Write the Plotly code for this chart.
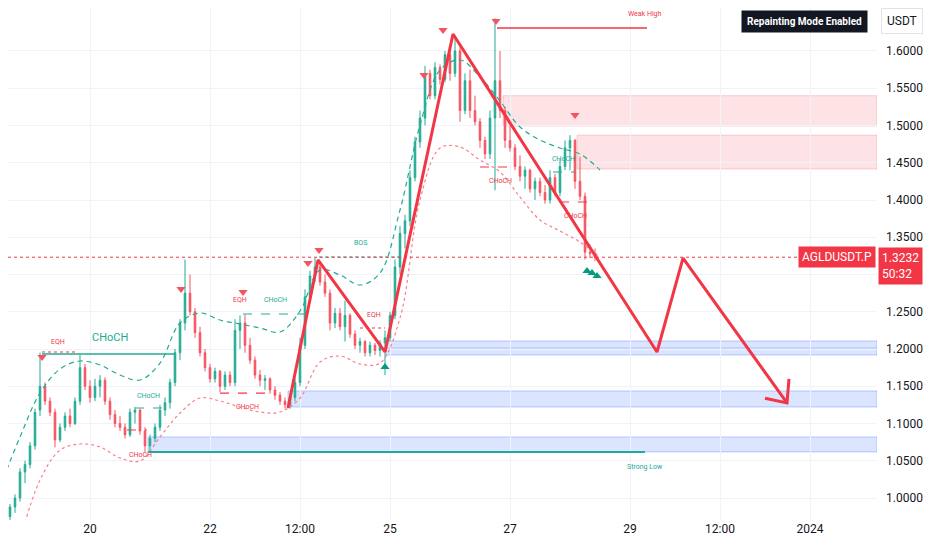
import pandas as pd
import plotly.graph_objects as go

# ---------------- data ----------------
candle_start = "2023-12-18 16:00"   # 2-hour candles
open_ = [0.975,0.988,1.000,1.035,1.045,1.070,1.118,1.150,1.130,1.115,
         1.078,1.095,1.110,1.100,1.130,1.175,1.150,1.135,1.150,1.158,
         1.130,1.112,1.100,1.095,1.085,1.115,1.118,1.090,1.070,1.080,
         1.095,1.118,1.128,1.155,1.195,1.235,1.275,1.250,1.222,1.195,
         1.175,1.160,1.170,1.150,1.165,1.155,1.225,1.235,1.205,1.185,
         1.165,1.158,1.160,1.145,1.138,1.130,1.125,1.135,1.155,1.205,
         1.270,1.298,1.310,1.290,1.275,1.235,1.248,1.230,1.245,1.220,
         1.205,1.210,1.195,1.205,1.198,1.208,1.215,1.245,1.310,1.355,
         1.372,1.430,1.478,1.510,1.570,1.540,1.578,1.562,1.595,1.570,
         1.600,1.520,1.560,1.520,1.505,1.480,1.462,1.510,1.560,1.520,
         1.480,1.470,1.445,1.432,1.440,1.415,1.425,1.410,1.400,1.430,
         1.410,1.445,1.470,1.480,1.425,1.405,1.330,1.328]
high = [0.992,1.005,1.040,1.050,1.075,1.120,1.195,1.155,1.135,1.120,
        1.100,1.115,1.120,1.135,1.192,1.180,1.158,1.160,1.165,1.162,
        1.135,1.118,1.110,1.100,1.120,1.122,1.120,1.095,1.085,1.100,
        1.125,1.135,1.160,1.200,1.240,1.320,1.300,1.255,1.230,1.200,
        1.180,1.175,1.172,1.170,1.170,1.240,1.245,1.246,1.215,1.190,
        1.172,1.165,1.162,1.150,1.142,1.135,1.140,1.160,1.215,1.280,
        1.305,1.322,1.318,1.300,1.280,1.255,1.255,1.265,1.248,1.225,
        1.215,1.212,1.210,1.208,1.212,1.225,1.250,1.320,1.365,1.380,
        1.440,1.485,1.520,1.580,1.575,1.585,1.582,1.600,1.605,1.620,
        1.605,1.570,1.575,1.540,1.510,1.485,1.520,1.644,1.600,1.525,
        1.500,1.475,1.460,1.445,1.442,1.430,1.430,1.420,1.440,1.435,
        1.455,1.480,1.487,1.482,1.458,1.410,1.340,1.335]
low = [0.970,0.980,0.995,1.020,1.040,1.065,1.110,1.125,1.110,1.068,
       1.075,1.090,1.095,1.098,1.125,1.145,1.128,1.130,1.135,1.125,
       1.105,1.095,1.090,1.080,1.082,1.100,1.085,1.062,1.063,1.075,
       1.090,1.110,1.120,1.150,1.185,1.225,1.245,1.215,1.190,1.170,
       1.155,1.155,1.142,1.145,1.150,1.150,1.200,1.195,1.180,1.160,
       1.150,1.145,1.140,1.132,1.125,1.120,1.120,1.130,1.150,1.200,
       1.262,1.290,1.285,1.270,1.225,1.228,1.225,1.210,1.215,1.200,
       1.195,1.190,1.190,1.192,1.190,1.165,1.210,1.240,1.300,1.335,
       1.365,1.425,1.470,1.500,1.535,1.535,1.555,1.558,1.560,1.565,
       1.505,1.515,1.510,1.500,1.470,1.455,1.455,1.413,1.510,1.470,
       1.465,1.440,1.425,1.415,1.410,1.400,1.405,1.395,1.395,1.405,
       1.405,1.440,1.440,1.415,1.400,1.320,1.322,1.318]
close = [0.988,1.000,1.035,1.045,1.070,1.115,1.150,1.130,1.115,1.078,
         1.095,1.110,1.100,1.130,1.175,1.150,1.135,1.150,1.158,1.130,
         1.112,1.100,1.095,1.085,1.115,1.118,1.090,1.070,1.080,1.095,
         1.118,1.128,1.155,1.195,1.235,1.275,1.250,1.222,1.195,1.175,
         1.160,1.170,1.150,1.165,1.155,1.225,1.235,1.205,1.185,1.165,
         1.158,1.160,1.145,1.138,1.130,1.125,1.135,1.155,1.205,1.270,
         1.298,1.310,1.290,1.275,1.235,1.248,1.230,1.245,1.220,1.205,
         1.210,1.195,1.205,1.198,1.208,1.215,1.245,1.310,1.355,1.372,
         1.430,1.478,1.510,1.570,1.540,1.578,1.562,1.595,1.570,1.600,
         1.520,1.560,1.520,1.505,1.480,1.462,1.510,1.560,1.520,1.480,
         1.470,1.445,1.432,1.440,1.415,1.425,1.410,1.400,1.430,1.410,
         1.445,1.470,1.480,1.425,1.405,1.330,1.328,1.3232]

# envelope bands (sampled every 8 hours)
upper_start = "2023-12-18 12:00"
upper_band = [1.0148,1.0819,1.1409,1.1731,1.1839,1.1785,1.1651,1.1584,1.1812,1.2349,
              1.2483,1.2389,1.2336,1.2282,1.2228,1.2510,1.3060,1.2993,1.2859,1.3020,
              1.3866,1.5007,1.5745,1.5879,1.5651,1.5329,1.4980,1.4805,1.4698,1.4617,
              1.4403]
lower_start = "2023-12-18 20:00"
lower_band = [0.9436,1.0242,1.0644,1.0725,1.0685,1.0537,1.0497,1.0819,1.1141,1.1342,
              1.1302,1.1221,1.1154,1.1154,1.1342,1.1825,1.1906,1.1799,1.1812,1.2416,
              1.4000,1.4698,1.4711,1.4537,1.4376,1.4040,1.3732,1.3584,1.3436,1.3235]

# projected zigzag path
zig_time = ["2023-12-23 07:12","2023-12-23 19:12","2023-12-24 22:00","2023-12-26 01:12",
            "2023-12-29 10:48","2023-12-29 21:12","2023-12-31 14:48"]
zig_price = [1.1209,1.3195,1.1960,1.6228,1.1960,1.3220,1.1276]
arrow_time = ["2023-12-31 06:00","2023-12-31 14:48","2023-12-31 15:36"]
arrow_price = [1.1340,1.1276,1.1600]

# zones
zone_start = ["2023-12-26 21:12","2023-12-28 02:48","2023-12-24 22:24","2023-12-23 07:12","2023-12-20 23:12"]
zone_top = [1.540,1.487,1.2108,1.1437,1.0820]
zone_bottom = [1.4993,1.4416,1.1920,1.1222,1.0619]
zone_kind = ["supply","supply","demand","demand","demand"]
zone_end = "2024-01-02 02:48"

# structure levels
lvl_t0 = ["2023-12-19 04:48","2023-12-19 04:48","2023-12-20 18:00","2023-12-20 14:48","2023-12-22 13:12",
          "2023-12-22 04:00","2023-12-23 19:36","2023-12-24 12:00","2023-12-26 12:00","2023-12-27 17:12",
          "2023-12-27 20:00"]
lvl_t1 = ["2023-12-21 10:00","2023-12-19 19:12","2023-12-21 06:00","2023-12-20 22:48","2023-12-23 14:00",
          "2023-12-23 02:00","2023-12-25 04:00","2023-12-24 22:00","2023-12-27 00:00","2023-12-28 02:00",
          "2023-12-28 06:48"]
lvl_price = [1.1933,1.1960,1.1208,1.0913,1.2470,1.1409,1.3235,1.2282,1.4443,1.4376,1.3973]
lvl_side = ["bull","bear","bull","bear","bull","bear","bull","bear","bear","bull","bear"]
lvl_dash = ["solid","dot","dash","dash","dash","dash","dot","dot","dash","dash","dash"]

# labels
lab_text = ["EQH","CHoCH","CHoCH","CHoCH","EQH","CHoCH","CHoCH","BOS","EQH","CHoCH","CHoCH","CHoCH"]
lab_time = ["2023-12-19 11:12","2023-12-20 08:00","2023-12-20 23:12","2023-12-20 20:00","2023-12-22 12:00",
            "2023-12-23 02:00","2023-12-22 14:48","2023-12-24 12:00","2023-12-24 17:36","2023-12-26 20:00",
            "2023-12-27 21:12","2023-12-28 02:00"]
lab_price = [1.2094,1.2148,1.1369,1.0577,1.2658,1.2658,1.1221,1.3423,1.2456,1.4255,1.4550,1.3785]
lab_side = ["bear","bull","bull","bear","bear","bull","bear","bull","bear","bear","bull","bear"]
lab_size = [7,11,7,7,7,7,7,7,7,7,7,7]

# swing markers
top_time = ["2023-12-19 04:48","2023-12-21 12:24","2023-12-22 13:12","2023-12-23 15:12","2023-12-23 19:36",
            "2023-12-25 13:36","2023-12-25 21:12","2023-12-26 18:24","2023-12-28 02:00"]
top_price = [1.1893,1.2806,1.2766,1.3155,1.3330,1.5678,1.6282,1.6403,1.5141]
bot_time = ["2023-12-24 22:00","2023-12-28 06:48","2023-12-28 08:48","2023-12-28 10:48"]
bot_price = [1.1759,1.3048,1.3020,1.2980]

weak_high = {"t0": "2023-12-26 18:48", "t1": "2023-12-29 06:48", "price": 1.6309}
strong_low = {"t0": "2023-12-20 23:12", "t1": "2023-12-29 06:00", "price": 1.0617}
last_price = 1.3232

tick_vals = ["2023-12-20","2023-12-22","2023-12-23 12:00","2023-12-25","2023-12-27",
             "2023-12-29","2023-12-30 12:00","2024-01-01"]
tick_text = ["20","22","12:00","25","27","29","12:00","2024"]
price_ticks = [1.00,1.05,1.10,1.15,1.20,1.25,1.30,1.35,1.40,1.45,1.50,1.55,1.60]
price_text = ["1.0000","1.0500","1.1000","1.1500","1.2000","1.2500","","1.3500",
              "1.4000","1.4500","1.5000","1.5500","1.6000"]

# ---------------- styles ----------------
GREEN = "#22ab94"
RED = "#f23645"
TXT = "#131722"
FONT = "Roboto"

times = pd.date_range(candle_start, periods=len(close), freq="2h")
up_t = pd.date_range(upper_start, periods=len(upper_band), freq="8h")
lo_t = pd.date_range(lower_start, periods=len(lower_band), freq="8h")

fig = go.Figure()

# zones
for t0, top, bot, kind in zip(zone_start, zone_top, zone_bottom, zone_kind):
    if kind == "supply":
        fill, edge = "rgba(242,54,69,0.14)", "rgba(242,54,69,0.22)"
    else:
        fill, edge = "rgba(41,98,255,0.17)", "rgba(41,98,255,0.3)"
    fig.add_shape(type="rect", x0=t0, x1=zone_end, y0=bot, y1=top, xref="x", yref="y",
                  fillcolor=fill, line=dict(color=edge, width=1), layer="below")
fig.add_shape(type="line", x0=zone_start[2], x1=zone_end, y0=1.2014, y1=1.2014,
              line=dict(color="rgba(41,98,255,0.25)", width=1), layer="below")

# last price dotted line
fig.add_shape(type="line", xref="paper", x0=0, x1=1, y0=last_price, y1=last_price, yref="y",
              line=dict(color=RED, width=1, dash="dot"))

# envelopes
fig.add_trace(go.Scatter(x=up_t, y=upper_band, mode="lines", line=dict(color=GREEN, width=1.2,
                         dash="5px,4px", shape="spline", smoothing=1.0), hoverinfo="skip"))
fig.add_trace(go.Scatter(x=lo_t, y=lower_band, mode="lines", line=dict(color="#f7818a", width=1.2,
                         dash="3px,3px", shape="spline", smoothing=1.0), hoverinfo="skip"))

# structure levels
for t0, t1, p, side, d in zip(lvl_t0, lvl_t1, lvl_price, lvl_side, lvl_dash):
    c = GREEN if side == "bull" else RED
    w = 1.5 if d == "solid" else 1.2
    fig.add_trace(go.Scatter(x=[t0, t1], y=[p, p], mode="lines",
                             line=dict(color=c, width=w, dash=d), hoverinfo="skip"))

# weak high / strong low
fig.add_trace(go.Scatter(x=[weak_high["t0"], weak_high["t1"]], y=[weak_high["price"]] * 2, mode="lines",
                         line=dict(color=RED, width=1.5), hoverinfo="skip"))
fig.add_trace(go.Scatter(x=[strong_low["t0"], strong_low["t1"]], y=[strong_low["price"]] * 2, mode="lines",
                         line=dict(color=GREEN, width=2), hoverinfo="skip"))

# candles
fig.add_trace(go.Candlestick(x=times, open=open_, high=high, low=low, close=close,
                             increasing=dict(line=dict(color=GREEN, width=1), fillcolor=GREEN),
                             decreasing=dict(line=dict(color="#f7525f", width=1), fillcolor="#f7525f"),
                             whiskerwidth=0, hoverinfo="skip"))

# zigzag
fig.add_trace(go.Scatter(x=zig_time, y=zig_price, mode="lines",
                         line=dict(color=RED, width=3), hoverinfo="skip"))
fig.add_trace(go.Scatter(x=arrow_time, y=arrow_price, mode="lines",
                         line=dict(color=RED, width=3), hoverinfo="skip"))

# swing markers
fig.add_trace(go.Scatter(x=top_time, y=top_price, mode="markers",
                         marker=dict(symbol="triangle-down", size=8, color="#f7525f"), hoverinfo="skip"))
fig.add_trace(go.Scatter(x=bot_time, y=bot_price, mode="markers",
                         marker=dict(symbol="triangle-up", size=8, color="#089981"), hoverinfo="skip"))

# labels
for txt, t, p, side, s in zip(lab_text, lab_time, lab_price, lab_side, lab_size):
    fig.add_annotation(x=t, y=p, text=txt, showarrow=False,
                       font=dict(family=FONT, size=s, color=GREEN if side == "bull" else RED))
fig.add_annotation(x="2023-12-29 06:00", y=1.6497, text="Weak High", showarrow=False,
                   font=dict(family=FONT, size=7, color=RED))
fig.add_annotation(x="2023-12-29 06:00", y=1.0416, text="Strong Low", showarrow=False,
                   font=dict(family=FONT, size=7, color=GREEN))

# UI labels
fig.add_annotation(xref="paper", yref="y", x=1, y=last_price, xanchor="right", yanchor="middle",
                   text="AGLDUSDT.P", showarrow=False, bgcolor=RED, borderpad=3, xshift=-1,
                   font=dict(family=FONT, size=12, color="white"))
fig.add_annotation(xref="paper", yref="y", x=1, y=last_price, xanchor="left", yanchor="top",
                   yshift=10, xshift=1, text="1.3232<br>50:32", showarrow=False, bgcolor=RED,
                   borderpad=3, align="left", font=dict(family=FONT, size=12, color="white"))
fig.add_annotation(xref="paper", yref="paper", x=0.9896, y=0.997, xanchor="right", yanchor="top",
                   text="<b>Repainting Mode Enabled</b>", showarrow=False, bgcolor=TXT, borderpad=5,
                   font=dict(family=FONT, size=10, color="white"))
fig.add_annotation(xref="paper", yref="paper", x=1.0, y=1.0, xanchor="left", yanchor="top",
                   xshift=4, text="USDT", showarrow=False, bgcolor="white", bordercolor="#e0e3eb",
                   borderwidth=1, borderpad=5, font=dict(family=FONT, size=12, color=TXT))

fig.update_layout(
    width=916, height=534,
    margin=dict(l=0, r=47, t=0, b=22),
    paper_bgcolor="white", plot_bgcolor="white",
    showlegend=False, boxgap=0.55,
    font=dict(family=FONT, size=12, color=TXT),
    xaxis=dict(type="date", range=["2023-12-18 15:12", zone_end], rangeslider=dict(visible=False),
               tickvals=tick_vals, ticktext=tick_text, showgrid=True, gridcolor="#f0f3fa",
               zeroline=False, showline=False, ticks="", automargin=False,
               tickfont=dict(family=FONT, size=12, color=TXT)),
    yaxis=dict(side="right", range=[0.9705, 1.6577], tickvals=price_ticks, ticktext=price_text,
               showgrid=True, gridcolor="#f0f3fa", zeroline=False, showline=False, ticks="",
               automargin=False, ticklabelstandoff=8,
               tickfont=dict(family=FONT, size=12, color=TXT)),
)

fig.write_html("out.html")
